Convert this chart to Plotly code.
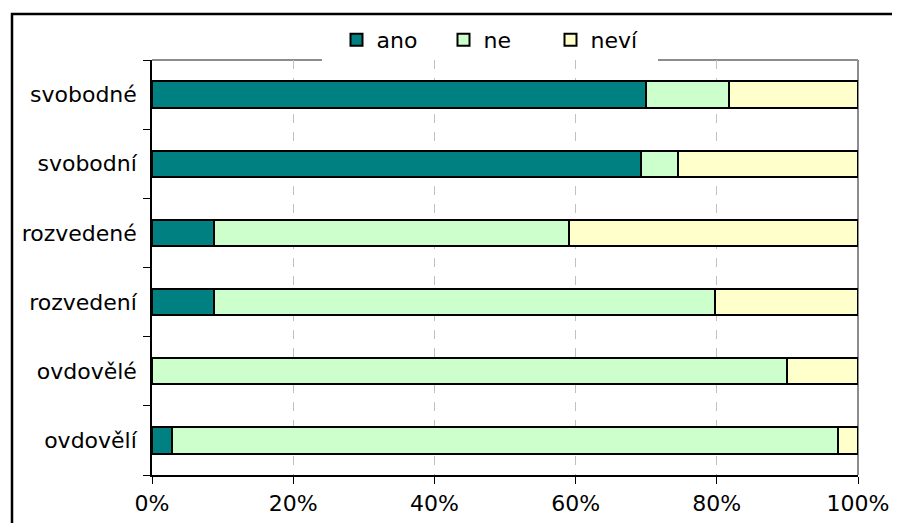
import plotly.graph_objects as go

categories = ["svobodné", "svobodní", "rozvedené", "rozvedení", "ovdovělé", "ovdovělí"]
ano = [70.0, 69.2, 8.8, 8.8, 0.0, 2.8]
ne = [11.7, 5.3, 50.2, 71.0, 89.9, 94.4]
nevi = [18.3, 25.5, 41.0, 20.2, 10.1, 2.8]
series_names = ["ano", "ne", "neví"]
series_colors = ["#008080", "#CCFFCC", "#FFFFCC"]
x_ticks = [0, 20, 40, 60, 80, 100]
x_tick_labels = [f"{v}%" for v in x_ticks]

FONT = "DejaVu Sans"
OFF = 8  # page body margin
W, H = 900 - OFF, 523 - OFF
L, R, T, B = 152 - OFF, 42, 60 - OFF, 48
pw = W - L - R
ph = H - T - B

fig = go.Figure()
for name, vals, col in zip(series_names, [ano, ne, nevi], series_colors):
    fig.add_trace(go.Bar(
        y=categories, x=vals, name=name, orientation="h",
        marker=dict(color=col, line=dict(color="black", width=2)),
    ))

def px_x(p):
    return (p - OFF - L) / pw

def px_y(p):
    return 1 - (p - OFF - T) / ph

shapes = [
    # outer chart frame (extends past the image)
    dict(type="rect", xref="paper", yref="paper",
         x0=px_x(12), x1=px_x(930), y0=px_y(560), y1=px_y(14),
         line=dict(color="black", width=2.5), fillcolor="rgba(0,0,0,0)", layer="below"),
    # gray plot-area frame: top (broken by legend) and right
    dict(type="line", xref="paper", yref="paper", x0=0, x1=px_x(322), y0=1, y1=1,
         line=dict(color="#8c8c8c", width=2), layer="below"),
    dict(type="line", xref="paper", yref="paper", x0=px_x(658), x1=1, y0=1, y1=1,
         line=dict(color="#8c8c8c", width=2), layer="below"),
    dict(type="line", xref="paper", yref="paper", x0=1, x1=1, y0=0, y1=1,
         line=dict(color="#8c8c8c", width=2), layer="below"),
]

fig.update_layout(
    width=W, height=H,
    autosize=False,
    barmode="stack",
    bargap=0.62,
    paper_bgcolor="white",
    plot_bgcolor="white",
    margin=dict(l=L, r=R, t=T, b=B, pad=0, autoexpand=False),
    font=dict(family=FONT, size=22, color="black"),
    showlegend=True,
    legend=dict(orientation="h", x=px_x(497), xanchor="center",
                y=px_y(40), yanchor="middle",
                bgcolor="rgba(0,0,0,0)", font=dict(family=FONT, size=22),
                itemwidth=30, entrywidth=62, traceorder="normal"),
    shapes=shapes,
    xaxis=dict(range=[0, 100], tickvals=x_ticks, ticktext=x_tick_labels,
               showgrid=True, gridcolor="#c0c0c0", griddash="dash", gridwidth=1,
               showline=True, linecolor="black", linewidth=1.5,
               ticks="outside", ticklen=7, tickcolor="black", tickwidth=1,
               ticklabelstandoff=1, zeroline=False, fixedrange=True,
               automargin=False),
    yaxis=dict(categoryorder="array", categoryarray=categories[::-1],
               showline=True, linecolor="black", linewidth=1.5,
               ticks="outside", ticklen=7, tickcolor="black", tickwidth=1,
               tickson="boundaries", ticklabelstandoff=9,
               showgrid=False, zeroline=False, fixedrange=True,
               automargin=False),
)

fig.write_html("out.html")
